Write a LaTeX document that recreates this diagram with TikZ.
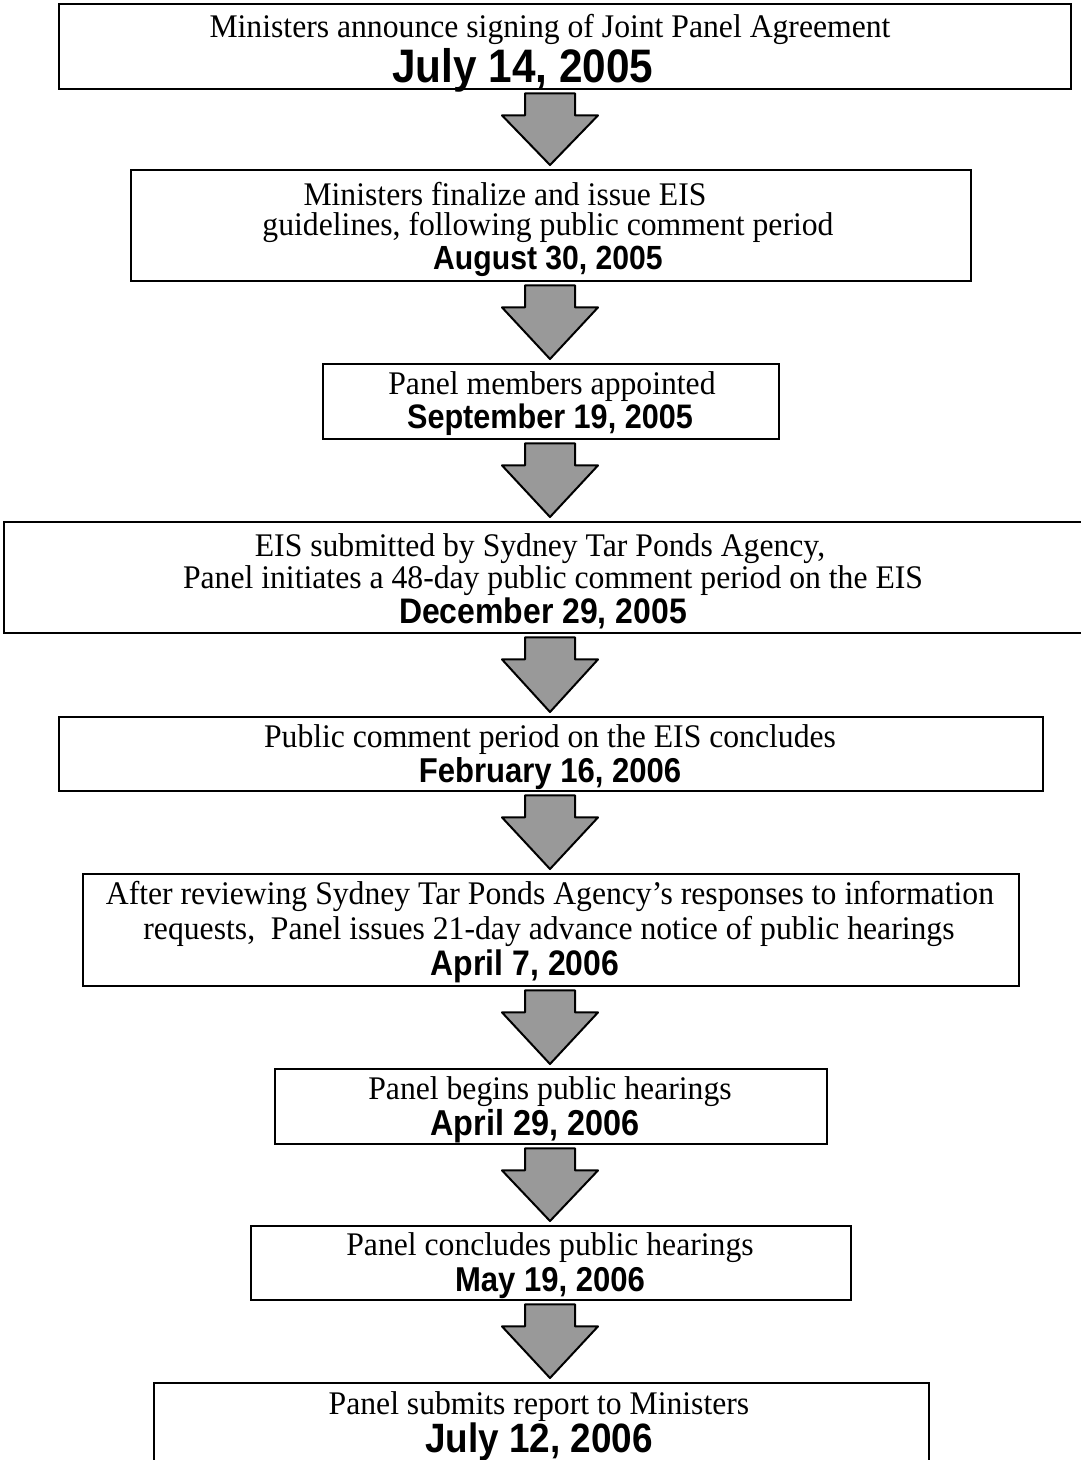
\documentclass[tikz,border=0pt]{standalone}
\usepackage{fontspec}
\setmainfont[FakeStretch=0.96]{Liberation Serif}
\newfontfamily\datefont[FakeStretch=0.9]{Liberation Sans}
\usetikzlibrary{calc}
\definecolor{arrgray}{gray}{0.6}
\tikzset{
  box/.style={draw=black, line width=2.4pt, inner sep=0pt, anchor=north west},
  txt/.style={inner sep=0pt, anchor=base, font=\fontsize{33}{33}\selectfont},
  dt/.style={inner sep=0pt, anchor=base, font=\datefont\bfseries\fontsize{#1}{#1}\selectfont},
  dt/.default=34.5,
  barrow/.style={draw=black, line width=2pt, line join=round, fill=arrgray},
}
\newcommand\blockarrow[2]{%
  \draw[barrow] ($(ax|-#1.south)+(-25,3)$) -- ++(50,0) -- ++(0,22) -- ++(23,0)
    -- ($(ax|-#2.north)+(0,-4)$) -- ($(ax|-#1.south)+(-48,25)$) -- ++(23,0) -- cycle;}
\begin{document}
\begin{tikzpicture}[x=1pt,y=-1pt]
\useasboundingbox (0,0) rectangle (1080,1460);
\coordinate (ax) at (550,0);
% boxes
\node[box, minimum width=1012pt, minimum height=85pt]  (b1) at (58,3) {};
\node[box, minimum width=840pt,  minimum height=111pt] (b2) at (130,169) {};
\node[box, minimum width=456pt,  minimum height=75pt]  (b3) at (322,363) {};
\node[box, minimum width=1082pt, minimum height=111pt] (b4) at (3,521) {};
\node[box, minimum width=984pt,  minimum height=74pt]  (b5) at (58,716) {};
\node[box, minimum width=936pt,  minimum height=112pt] (b6) at (82,873) {};
\node[box, minimum width=552pt,  minimum height=75pt]  (b7) at (274,1068) {};
\node[box, minimum width=600pt,  minimum height=74pt]  (b8) at (250,1225) {};
\node[box, minimum width=775pt,  minimum height=95pt]  (b9) at (153,1382) {};
% texts
\node[txt] (t1a) at (550,37) {Ministers announce signing of Joint Panel Agreement};
\node[dt=47] (d1) at (523,82) {July 14, 2005};
\node[txt] (t2a) at (505,205) {Ministers finalize and issue EIS};
\node[txt] (t2b) at (548,235) {guidelines, following public comment period};
\node[dt=33.5] (d2) at (548,269) {August 30, 2005};
\node[txt] (t3a) at (552,394) {Panel members appointed};
\node[dt=34] (d3) at (550,428) {September 19, 2005};
\node[txt] (t4a) at (540,556) {EIS submitted by Sydney Tar Ponds Agency,};
\node[txt] (t4b) at (553,588) {Panel initiates a 48-day public comment period on the EIS};
\node[dt=35.5] (d4) at (543,623) {December 29, 2005};
\node[txt] (t5a) at (550,747) {Public comment period on the EIS concludes};
\node[dt=34.5] (d5) at (550,782) {February 16, 2006};
\node[txt] (t6a) at (550,904) {After reviewing Sydney Tar Ponds Agency’s responses to information};
\node[txt] (t6b) at (549,939) {requests,\ \ Panel issues 21-day advance notice of public hearings};
\node[dt=35.5] (d6) at (525,975) {April 7, 2006};
\node[txt] (t7a) at (550,1099) {Panel begins public hearings};
\node[dt=36] (d7) at (535,1135) {April 29, 2006};
\node[txt] (t8a) at (550,1255) {Panel concludes public hearings};
\node[dt=34.5] (d8) at (550,1291) {May 19, 2006};
\node[txt] (t9a) at (539,1414) {Panel submits report to Ministers};
\node[dt=41] (d9) at (539,1452) {July 12, 2006};
% arrows
\blockarrow{b1}{b2}
\blockarrow{b2}{b3}
\blockarrow{b3}{b4}
\blockarrow{b4}{b5}
\blockarrow{b5}{b6}
\blockarrow{b6}{b7}
\blockarrow{b7}{b8}
\blockarrow{b8}{b9}
\end{tikzpicture}
\end{document}
